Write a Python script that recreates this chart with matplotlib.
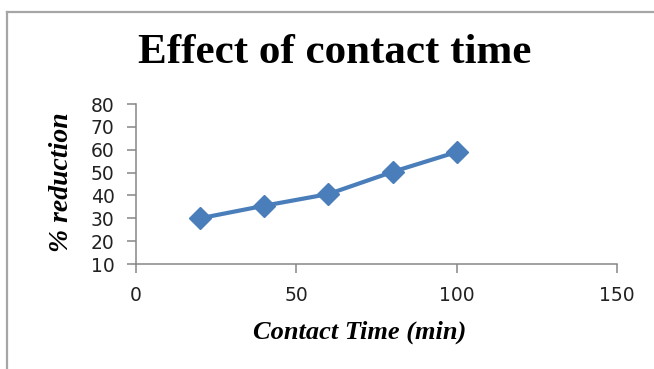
#!/usr/bin/env python3
"""Line chart of % reduction against contact time."""

import matplotlib
matplotlib.use("Agg")
import matplotlib.pyplot as plt
from matplotlib.lines import Line2D


CONTACT_TIME_MIN = [20, 40, 60, 80, 100]
PERCENT_REDUCTION = [30, 35.5, 40.6, 50.3, 59]

X_TICKS = [0, 50, 100, 150]
Y_TICKS = [10, 20, 30, 40, 50, 60, 70, 80]

LINE_COLOR = "#4a7ebb"
AXIS_COLOR = "#868686"
FRAME_COLOR = "#a6a6a6"


def main():
    fig = plt.figure(figsize=(6.54, 3.69), dpi=100)
    fig.patch.set_facecolor("white")

    # chart area frame (top and left edges only, the rest runs off the canvas)
    fig.add_artist(Line2D([6.5 / 654, 1.0], [1 - 11.5 / 369] * 2,
                          color=FRAME_COLOR, linewidth=1.6))
    fig.add_artist(Line2D([6.5 / 654] * 2, [0.0, 1 - 11.5 / 369],
                          color=FRAME_COLOR, linewidth=1.6))

    ax = fig.add_axes([136 / 654, 1 - 264 / 369, 481 / 654, 160 / 369])
    ax.plot(CONTACT_TIME_MIN, PERCENT_REDUCTION, color=LINE_COLOR,
            linewidth=3, marker="D", markersize=11,
            markerfacecolor=LINE_COLOR, markeredgecolor=LINE_COLOR,
            solid_capstyle="round")

    ax.set_xlim(0, 150)
    ax.set_ylim(10, 80)
    ax.set_xticks(X_TICKS)
    ax.set_yticks(Y_TICKS)

    for side in ("top", "right"):
        ax.spines[side].set_visible(False)
    for side in ("left", "bottom"):
        ax.spines[side].set_color(AXIS_COLOR)
        ax.spines[side].set_linewidth(1.1)

    ax.tick_params(axis="both", direction="out", length=6.5, width=1.1,
                   color=AXIS_COLOR, labelsize=13.5, labelcolor="#222222")
    ax.tick_params(axis="y", pad=9)
    ax.tick_params(axis="x", pad=9)

    fig.text(335 / 654, 1 - 53 / 369, "Effect of contact time",
             family="Liberation Serif", fontweight="bold", fontsize=31,
             ha="center", va="center")
    fig.text(360 / 654, 1 - 332 / 369, "Contact Time (min)",
             family="Liberation Serif", fontweight="bold", style="italic",
             fontsize=19, ha="center", va="center")
    fig.text(62 / 654, 1 - 182 / 369, "% reduction",
             family="Liberation Serif", fontweight="bold", style="italic",
             fontsize=20, rotation=90, ha="center", va="center")

    fig.savefig("out.png", dpi=100)
    plt.close(fig)


if __name__ == "__main__":
    main()
